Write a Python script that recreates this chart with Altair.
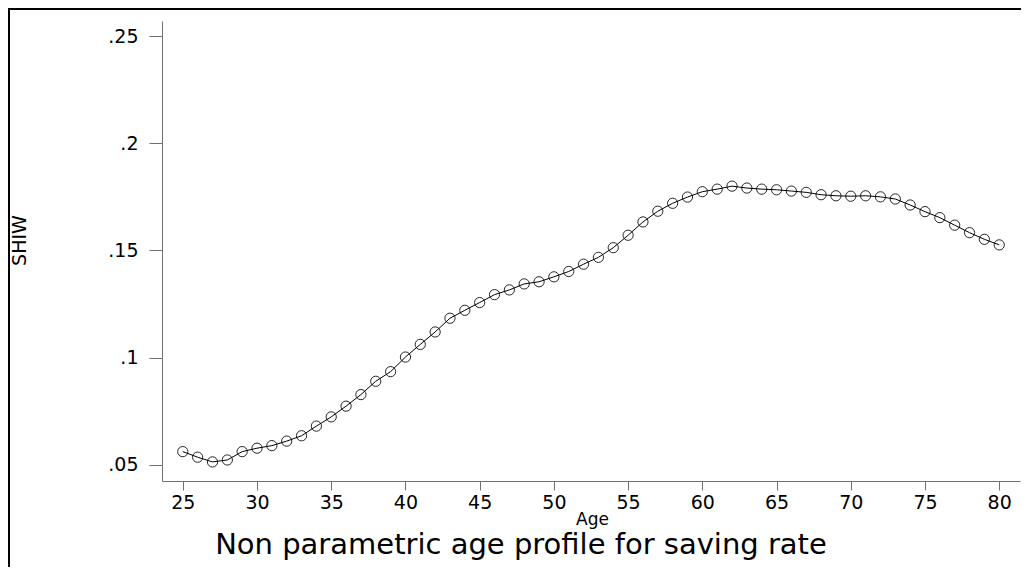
import altair as alt
import pandas as pd

# Data
ages = list(range(25, 81))
saving_rate = [0.0562, 0.0536, 0.0514, 0.0523, 0.0562, 0.0578, 0.0590, 0.0611, 0.0636, 0.0681,
               0.0724, 0.0774, 0.0828, 0.0890, 0.0935, 0.1003, 0.1062, 0.1120, 0.1184, 0.1221,
               0.1257, 0.1294, 0.1316, 0.1344, 0.1354, 0.1377, 0.1402, 0.1436, 0.1468, 0.1513,
               0.1571, 0.1633, 0.1683, 0.1720, 0.1749, 0.1774, 0.1786, 0.1800, 0.1791, 0.1786,
               0.1783, 0.1777, 0.1771, 0.1760, 0.1755, 0.1753, 0.1755, 0.1750, 0.1740, 0.1712,
               0.1681, 0.1653, 0.1618, 0.1583, 0.1552, 0.1526]
x_ticks = [25, 30, 35, 40, 45, 50, 55, 60, 65, 70, 75, 80]
y_ticks = [0.05, 0.1, 0.15, 0.2, 0.25]
title_text = "Non parametric age profile for saving rate"
x_title = "Age"
y_title = "SHIW"

df = pd.DataFrame({"age": ages, "rate": saving_rate})

FONT = "DejaVu Sans"
W, H = 858, 460

x_enc = alt.X("age:Q",
              scale=alt.Scale(domain=[23.6, 81.4], nice=False, zero=False),
              axis=alt.Axis(values=x_ticks, title=x_title, grid=False,
                            domainColor="#707070", tickColor="#707070",
                            tickSize=9, labelPadding=3, labelFontSize=19,
                            labelFont=FONT, labelColor="black",
                            titleFont=FONT, titleFontSize=17, titleFontWeight="normal",
                            titleColor="black", titleX=430, titleY=43,
                            titleBaseline="alphabetic", titleAnchor="middle",
                            labelFlush=False))
y_enc = alt.Y("rate:Q",
              scale=alt.Scale(domain=[0.0425, 0.257], nice=False, zero=False),
              axis=alt.Axis(values=y_ticks, title=y_title, grid=False,
                            labelExpr="substring(format(datum.value, '.2~f'), 1)",
                            domainColor="#707070", tickColor="#707070",
                            tickSize=13, labelPadding=11, labelFontSize=19,
                            labelFont=FONT, labelColor="black",
                            titleFont=FONT, titleFontSize=19, titleFontWeight="normal",
                            titleColor="black", titleAngle=270, titleX=-137, titleY=219,
                            titleBaseline="alphabetic", titleAlign="center",
                            labelFlush=False))

base = alt.Chart(df)
line = base.mark_line(color="black", strokeWidth=1).encode(x=x_enc, y=y_enc)
pts = base.mark_point(shape="circle", filled=False, size=105, color="black",
                      strokeWidth=1, opacity=0.85).encode(x="age:Q", y="rate:Q")

one = pd.DataFrame({"t": [title_text]})
title = alt.Chart(one).mark_text(font=FONT, fontSize=29, color="black",
                                 align="center", baseline="alphabetic").encode(
    text="t:N", x=alt.value(359), y=alt.value(533))
border = alt.Chart(one).mark_rect(filled=False, stroke="black", strokeWidth=2).encode(
    x=alt.value(-153), x2=alt.value(3000), y=alt.value(-12), y2=alt.value(3000))

chart = alt.layer(line, pts, title, border).properties(
    width=W, height=H,
    autosize=alt.AutoSizeParams(type="none"),
    padding={"left": 154, "top": 13, "right": 1, "bottom": 86},
    background="white",
).configure_view(stroke=None)

chart.save("out.html", embed_options={"renderer": "svg", "actions": False})
